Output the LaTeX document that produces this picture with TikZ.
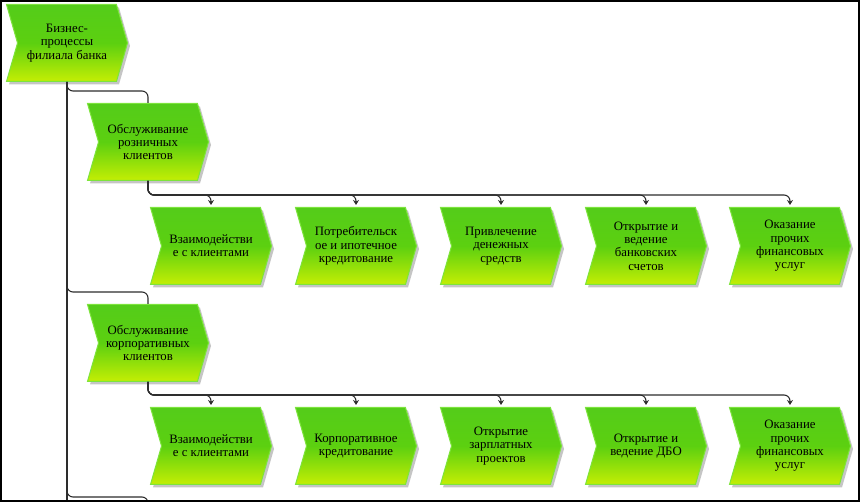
\documentclass[tikz,border=0pt]{standalone}
\usepackage{fontspec}
\setmainfont{Liberation Serif}
\usepackage{tikz}
\usetikzlibrary{shapes.symbols,shadows,arrows.meta}
\usetikzlibrary{positioning}

\definecolor{fntop}{RGB}{84,204,26}
\definecolor{fnmid}{RGB}{92,208,16}
\definecolor{fnbot}{RGB}{196,238,4}
\definecolor{fnedge}{RGB}{125,228,60}
\definecolor{connline}{RGB}{45,45,45}

\tikzset{
  fn/.style={signal,signal to=east,signal from=west,signal pointer angle=148,
    minimum width=121pt,minimum height=77pt,inner sep=0pt,
    draw=fnedge,line width=1pt,top color=fntop,bottom color=fnbot,middle color=fnmid,
    drop shadow={shadow xshift=2.5pt,shadow yshift=-3pt,fill=black!45},
    font=\fontsize{12.8}{13.3}\selectfont,align=center,text=black},
  conn/.style={draw=connline,line width=1.1pt,rounded corners=6pt},
  connarrow/.style={conn,-{Stealth[length=5pt,width=6pt]},shorten >=2pt}
}

\begin{document}
\begin{tikzpicture}[on grid]
    \useasboundingbox (0pt,0pt) rectangle (860pt,-502pt);

    % top level
    \node[fn] (root) at (67pt,-43pt) {Бизнес-\\процессы\\филиала банка};

    % second level
    \node[fn] (ret) at (148pt,-142pt) {Обслуживание\\розничных\\клиентов};
    \node[fn] (corp) at (148pt,-343pt) {Обслуживание\\корпоративных\\клиентов};

    % retail functions
    \node[fn] (r11) at (211pt,-246pt) {Взаимодействи\\е с клиентами};
    \node[fn] (r12) [right=145pt of r11] {Потребительск\\ое и ипотечное\\кредитование};
    \node[fn] (r13) [right=145pt of r12] {Привлечение\\денежных\\средств};
    \node[fn] (r14) [right=145pt of r13] {Открытие и\\ведение\\банковских\\счетов};
    \node[fn] (r15) [right=144pt of r14] {Оказание\\прочих\\финансовых\\услуг};

    % corporate functions
    \node[fn] (r21) at (211pt,-446pt) {Взаимодействи\\е с клиентами};
    \node[fn] (r22) [right=145pt of r21] {Корпоративное\\кредитование};
    \node[fn] (r23) [right=145pt of r22] {Открытие\\зарплатных\\проектов};
    \node[fn] (r24) [right=145pt of r23] {Открытие и\\ведение ДБО};
    \node[fn] (r25) [right=144pt of r24] {Оказание\\прочих\\финансовых\\услуг};

    % trunk and branches
    \coordinate (trunkend) at (67pt,-512pt);
    \coordinate (nextbend) at (148pt,-497pt);
    \coordinate (nextfn) at (148pt,-520pt);
    \draw[conn] (root.south) -- (trunkend);
    \draw[conn] (root.south) |- ([yshift=12pt]ret.north) -- (ret.north);
    \draw[conn] (root.south) |- ([yshift=12pt]corp.north) -- (corp.north);
    \draw[conn] (root.south) |- (nextbend) -- (nextfn);

    % connections to retail functions
    \draw[connarrow] (ret.south) |- ([yshift=12pt]r11.north) -- (r11.north);
    \draw[connarrow] (ret.south) |- ([yshift=12pt]r12.north) -- (r12.north);
    \draw[connarrow] (ret.south) |- ([yshift=12pt]r13.north) -- (r13.north);
    \draw[connarrow] (ret.south) |- ([yshift=12pt]r14.north) -- (r14.north);
    \draw[connarrow] (ret.south) |- ([yshift=12pt]r15.north) -- (r15.north);

    % connections to corporate functions
    \draw[connarrow] (corp.south) |- ([yshift=12pt]r21.north) -- (r21.north);
    \draw[connarrow] (corp.south) |- ([yshift=12pt]r22.north) -- (r22.north);
    \draw[connarrow] (corp.south) |- ([yshift=12pt]r23.north) -- (r23.north);
    \draw[connarrow] (corp.south) |- ([yshift=12pt]r24.north) -- (r24.north);
    \draw[connarrow] (corp.south) |- ([yshift=12pt]r25.north) -- (r25.north);

    % frame
    \draw[line width=2pt] (1pt,-1pt) rectangle (859pt,-501pt);
\end{tikzpicture}
\end{document}
